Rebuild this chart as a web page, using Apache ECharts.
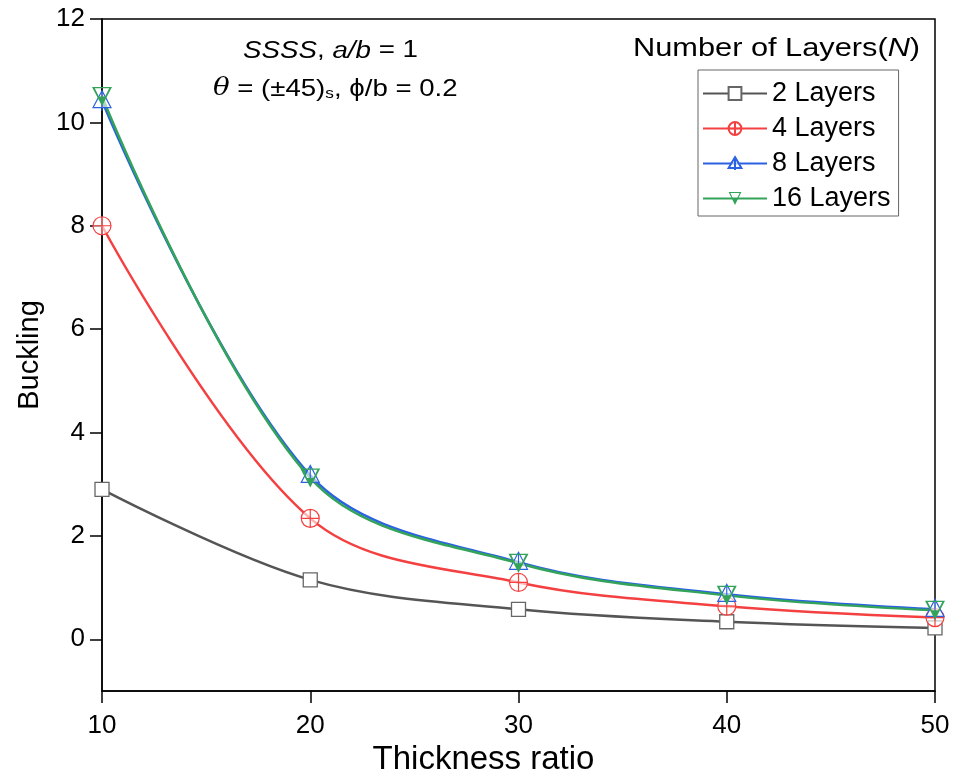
<!DOCTYPE html>
<html><head><meta charset="utf-8">
<script src="https://cdn.jsdelivr.net/npm/echarts@6/dist/echarts.min.js"></script>
<style>html,body{margin:0;padding:0;background:#fff}#c{width:954px;height:778px}</style>
</head><body><div id="c"></div>
<script>
const xValues = [10, 20, 30, 40, 50];
const layers2 = [2.90, 1.15, 0.58, 0.34, 0.22];
const layers4 = [8.00, 2.34, 1.10, 0.64, 0.42];
const layers8 = [10.42, 3.17, 1.49, 0.87, 0.58];
const layers16 = [10.50, 3.12, 1.47, 0.85, 0.56];
const seriesNames = ['2 Layers', '4 Layers', '8 Layers', '16 Layers'];
const yTicks = [0, 2, 4, 6, 8, 10, 12];

const FONT = 'Liberation Sans, Arial, sans-serif';
const circleCross = 'path://M10 0 A10 10 0 1 1 10 20 A10 10 0 1 1 10 0 Z M0 10 L20 10 M10 0 L10 20';
const triUpLine = 'path://M10 0 L20 17 L0 17 Z M10 0 L10 20';
const triDownHalf = 'path://M0 0 L20 0 L10 20 Z M2.8 1.3 L10 16.6 L17.2 1.3 Z M5 10 L15 10 L10 20 Z';

function pairs(arr){ return xValues.map((x,i)=>[x, arr[i]]); }

function mkSeries(name, data, color, symbol, size, itemStyle){
  return {type:'line', name:name, data:pairs(data), smooth:0.35,
    symbol:symbol, symbolSize:size, showSymbol:true,
    lineStyle:{color:color, width:2.5, type:'solid'},
    itemStyle:itemStyle, z:2};
}

const chart = echarts.init(document.getElementById('c'));
chart.setOption({
  animation:false,
  color:['#555555','#f44040','#2a62e2','#33a35a'],
  grid:{left:102, right:19, top:19, bottom:87, show:true, borderColor:'#000', borderWidth:1.5,
    backgroundColor:'transparent', containLabel:false, outerBoundsMode:'none'},
  xAxis:{type:'value', min:10, max:50, interval:10,
    axisLine:{onZero:false, lineStyle:{color:'#000', width:1.5}},
    axisTick:{length:12, lineStyle:{color:'#000', width:1.5}},
    axisLabel:{color:'#000', fontSize:26, fontFamily:FONT, margin:22},
    splitLine:{show:false},
    name:'Thickness ratio', nameLocation:'middle', nameGap:49,
    nameTextStyle:{color:'#000', fontSize:33, fontFamily:FONT, padding:[0,70,0,0]}},
  yAxis:{type:'value', min:-1, max:12,
    axisLine:{onZero:false, lineStyle:{color:'#000', width:1.5}},
    axisTick:{length:12, customValues:yTicks, lineStyle:{color:'#000', width:1.5}},
    axisLabel:{color:'#000', fontSize:26, fontFamily:FONT, margin:17, customValues:yTicks},
    splitLine:{show:false},
    name:'Buckling', nameLocation:'middle', nameGap:48,
    nameTextStyle:{color:'#000', fontSize:29, fontFamily:FONT, padding:[0,0,10,0]}},
  legend:{orient:'vertical', left:698, top:70, itemWidth:64, itemHeight:16, itemGap:8,
    padding:[10,8,4,4], borderColor:'#666', borderWidth:1,
    textStyle:{color:'#000', fontSize:27, fontFamily:FONT},
    data:seriesNames},
  series:[
    mkSeries(seriesNames[0], layers2, '#555555', 'rect', 14, {color:'#fff', borderColor:'#666', borderWidth:1.3}),
    mkSeries(seriesNames[1], layers4, '#f44040', circleCross, 18, {color:'rgba(255,255,255,0.6)', borderColor:'#f44040', borderWidth:1.2}),
    mkSeries(seriesNames[2], layers8, '#2a62e2', triUpLine, [18,20], {color:'rgba(255,255,255,0.6)', borderColor:'#2a62e2', borderWidth:1.2}),
    mkSeries(seriesNames[3], layers16, '#33a35a', triDownHalf, [20,19], {color:'#33a35a', borderWidth:0})
  ],
  graphic:[
    {type:'text', x:633, y:37, scaleX:1.23, z:10, style:{
      text:'{n|Number of Layers(}{i|N}{n|)}', rich:{
        n:{fontSize:25, fontFamily:FONT, fill:'#000'},
        i:{fontSize:25, fontFamily:FONT, fontStyle:'italic', fill:'#000'}}}},
    {type:'text', x:243, y:39, scaleX:1.18, z:10, style:{
      text:'{i|SSSS}{n|, }{i|a/b}{n| = 1}', rich:{
        n:{fontSize:23.5, fontFamily:FONT, fill:'#000'},
        i:{fontSize:23.5, fontFamily:FONT, fontStyle:'italic', fill:'#000'}}}},
    {type:'text', x:213, y:74, scaleX:1.15, z:10, style:{
      text:'{i|θ}{n| = (±45)}{s|s}{n|, ϕ/b = 0.2}', rich:{
        n:{fontSize:24, fontFamily:FONT, fill:'#000', verticalAlign:'bottom'},
        i:{fontSize:24, fontFamily:'DejaVu Serif, serif', fontStyle:'italic', fill:'#000', verticalAlign:'bottom'},
        s:{fontSize:15, fontFamily:FONT, fill:'#000', padding:[12,0,0,0], verticalAlign:'bottom'}}}}
  ]
});
</script></body></html>
